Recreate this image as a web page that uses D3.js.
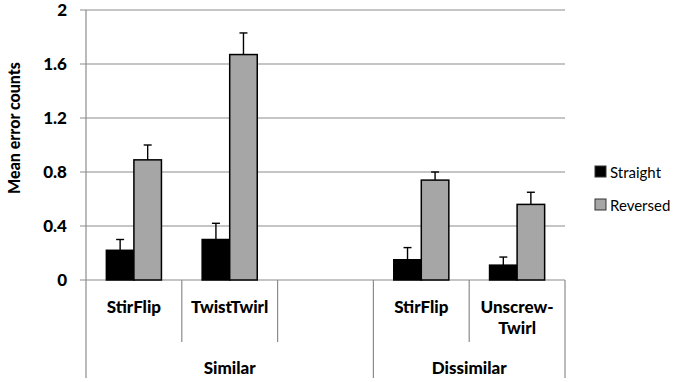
<!DOCTYPE html>
<html lang="en">
<head>
<meta charset="utf-8">
<title>Mean error counts</title>
<script src="https://cdn.jsdelivr.net/npm/d3@7/dist/d3.min.js"></script>
<style>
body { margin: 0; background: #fff; }
text { font-family: Lato, "Open Sans", sans-serif; font-weight: bold; fill: #000; }
.grid line { stroke: #8c8c8c; stroke-width: 1.2; }
.frame { stroke: #8c8c8c; stroke-width: 1.2; }
</style>
</head>
<body>
<script>
// chart values
var groups = ["Similar", "Dissimilar"];
var categories = ["StirFlip", "TwistTwirl", "", "StirFlip", "Unscrew-Twirl"];
var categoryGroup = [0, 0, 0, 1, 1];
var series = ["Straight", "Reversed"];
var straight = [0.22, 0.30, null, 0.15, 0.11];
var straightErr = [0.08, 0.12, null, 0.09, 0.06];
var reversed = [0.89, 1.67, null, 0.74, 0.56];
var reversedErr = [0.11, 0.16, null, 0.06, 0.09];
var yTicks = [0, 0.4, 0.8, 1.2, 1.6, 2];

var W = 680, H = 382;
var plot = {left: 86, right: 565, top: 10, bottom: 280};
var colors = {"Straight": "#000000", "Reversed": "#a6a6a6"};

var svg = d3.select("body").append("svg")
    .attr("width", W).attr("height", H);

var idx = categories.map(function(d, i) { return i; });
var x0 = d3.scaleBand().domain(idx).range([plot.left, plot.right]).padding(0);
var barW = x0.bandwidth() * 0.575;
var x1 = d3.scaleBand().domain(series)
    .range([(x0.bandwidth() - barW) / 2, (x0.bandwidth() + barW) / 2]);
var y = d3.scaleLinear().domain([0, 2]).range([plot.bottom, plot.top]);

// gridlines + ticks
var grid = svg.append("g").attr("class", "grid");
grid.selectAll("line").data(yTicks).enter().append("line")
    .attr("x1", plot.left - 6).attr("x2", plot.right)
    .attr("y1", function(d) { return y(d); })
    .attr("y2", function(d) { return y(d); });

var yAxis = d3.axisLeft(y).tickValues(yTicks).tickSize(0).tickPadding(19)
    .tickFormat(function(d) { return d3.format("")(d); });
svg.append("g").attr("transform", "translate(" + plot.left + ",0)")
    .call(yAxis)
    .call(function(g) { g.select(".domain").remove(); })
    .selectAll("text").style("font-size", "17px")
    .style("font-family", "Lato, sans-serif").style("font-weight", "900")
    .attr("dy", "0.33em");

// axis frame / category dividers
var frameBottom = 378, catBottom = 342;
svg.append("line").attr("class", "frame")
    .attr("x1", plot.left).attr("x2", plot.left)
    .attr("y1", plot.top).attr("y2", frameBottom);

categories.forEach(function(c, i) {
  var xr = x0(i) + x0.bandwidth();
  var lastOfGroup = i == categories.length - 1 || categoryGroup[i + 1] != categoryGroup[i];
  svg.append("line").attr("class", "frame")
      .attr("x1", xr).attr("x2", xr)
      .attr("y1", plot.bottom)
      .attr("y2", lastOfGroup ? frameBottom : catBottom);
});

// bars
var rows = idx.filter(function(i) { return straight[i] != null; }).map(function(i) {
  return {i: i, vals: [
    {key: "Straight", v: straight[i], e: straightErr[i]},
    {key: "Reversed", v: reversed[i], e: reversedErr[i]}
  ]};
});

var cat = svg.selectAll(".cat").data(rows).enter().append("g")
    .attr("transform", function(d) { return "translate(" + x0(d.i) + ",0)"; });

// error bars (drawn under bar)
var errs = cat.selectAll(".err").data(function(d) { return d.vals; }).enter().append("g");
errs.append("line")
    .attr("x1", function(d) { return x1(d.key) + x1.bandwidth() / 2; })
    .attr("x2", function(d) { return x1(d.key) + x1.bandwidth() / 2; })
    .attr("y1", function(d) { return y(d.v); })
    .attr("y2", function(d) { return y(d.v + d.e); })
    .attr("stroke", "#000").attr("stroke-width", 1.4);
errs.append("line")
    .attr("x1", function(d) { return x1(d.key) + x1.bandwidth() / 2 - 4; })
    .attr("x2", function(d) { return x1(d.key) + x1.bandwidth() / 2 + 4; })
    .attr("y1", function(d) { return y(d.v + d.e); })
    .attr("y2", function(d) { return y(d.v + d.e); })
    .attr("stroke", "#000").attr("stroke-width", 1.4);

cat.selectAll("rect").data(function(d) { return d.vals; }).enter().append("rect")
    .attr("x", function(d) { return x1(d.key); })
    .attr("y", function(d) { return y(d.v); })
    .attr("width", x1.bandwidth())
    .attr("height", function(d) { return y(0) - y(d.v); })
    .attr("fill", function(d) { return colors[d.key]; })
    .attr("stroke", "#000").attr("stroke-width", 1.5);

// category labels
categories.forEach(function(c, i) {
  if (!c) return;
  var cx = x0(i) + x0.bandwidth() / 2;
  var parts = c.indexOf("-") > 0 ? [c.split("-")[0] + "-", c.split("-")[1]] : [c];
  var t = svg.append("text").attr("text-anchor", "middle")
      .style("font-size", "17px").style("font-weight", "900");
  parts.forEach(function(p, k) {
    t.append("tspan").attr("x", cx).attr("y", 313 + k * 21).text(p);
  });
});

// group labels
groups.forEach(function(g, gi) {
  var members = idx.filter(function(i) { return categoryGroup[i] == gi; });
  var xa = x0(members[0]), xb = x0(members[members.length - 1]) + x0.bandwidth();
  svg.append("text").attr("text-anchor", "middle")
      .attr("x", (xa + xb) / 2).attr("y", 374)
      .style("font-size", "17px").style("font-weight", "900").text(g);
});

// y label
svg.append("text")
    .attr("transform", "translate(20,128) rotate(-90)")
    .attr("text-anchor", "middle")
    .style("font-size", "16px").style("font-weight", "900")
    .text("Mean error counts");

// legend
var leg = svg.selectAll(".leg").data(series).enter().append("g")
    .attr("transform", function(d, i) { return "translate(595," + (166 + i * 33) + ")"; });
leg.append("rect").attr("width", 11).attr("height", 11)
    .attr("fill", function(d) { return colors[d]; })
    .attr("stroke", "#333").attr("stroke-width", 1);
leg.append("text").attr("x", 15).attr("y", 12)
    .style("font-size", "15px").style("font-weight", "normal")
    .text(function(d) { return d; });
</script>
</body>
</html>
